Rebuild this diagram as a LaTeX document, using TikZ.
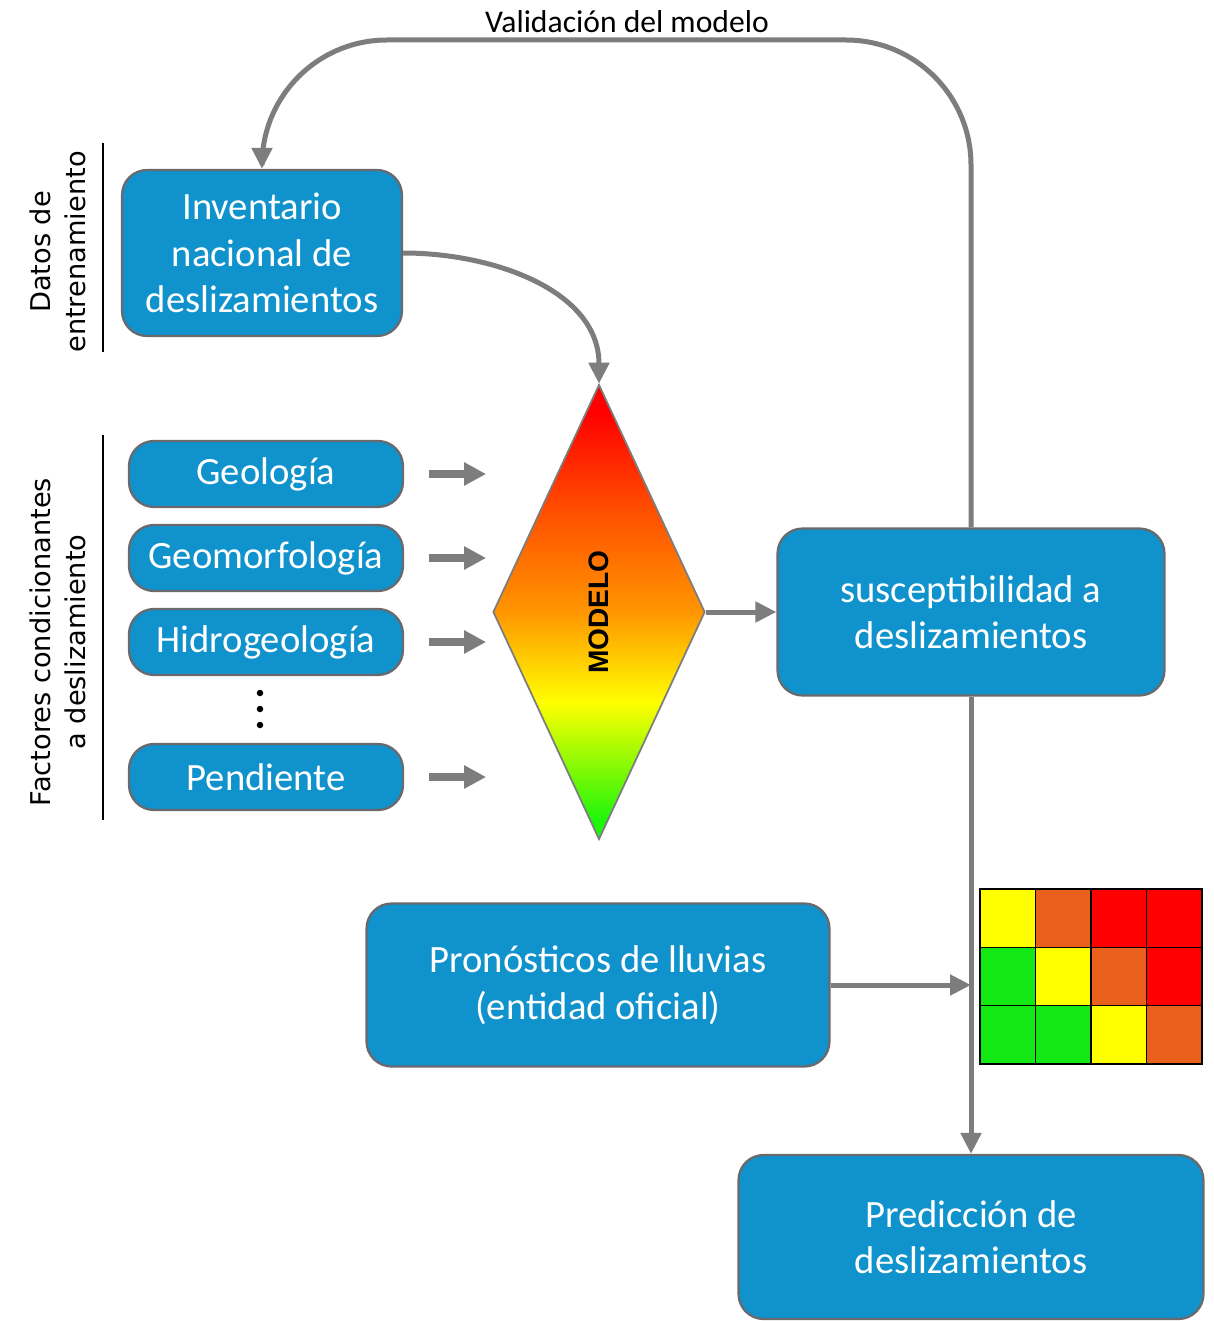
\documentclass[tikz,border=0pt]{standalone}
\usepackage{fontspec}
\setmainfont{Carlito}
\newfontfamily\ladofont{DejaVu Sans}
\newfontfamily\modfont{Liberation Sans}
\usetikzlibrary{arrows.meta,shapes.geometric}
\definecolor{azulcaja}{RGB}{16,146,204}
\definecolor{grisborde}{RGB}{105,105,110}
\definecolor{grisflecha}{RGB}{125,125,125}
\definecolor{verde}{RGB}{20,232,20}
\definecolor{amar}{RGB}{255,255,0}
\definecolor{nar}{RGB}{232,96,28}
\definecolor{rojo}{RGB}{255,0,0}
\definecolor{sverde}{RGB}{30,245,10}
\definecolor{snar}{RGB}{255,150,0}
\definecolor{snarr}{RGB}{255,80,0}
\pgfdeclareverticalshading{modelo}{100bp}{color(0bp)=(sverde); color(27bp)=(sverde); color(40bp)=(amar); color(50bp)=(snar); color(61bp)=(snarr); color(72bp)=(rojo); color(100bp)=(rojo)}

\begin{document}
\begin{tikzpicture}
[x=0.02cm,y=-0.02cm]
\tikzset{caja/.style={draw=grisborde, line width=1.3pt, fill=azulcaja, rounded corners=0.5cm, text=white, align=center, inner sep=0pt, font=\fontsize{22}{26.5}\selectfont}}
\tikzset{flecha/.style={draw=grisflecha, line width=0.1cm, -{Triangle[length=0.42cm,width=0.4cm]}}}
\tikzset{gruesa/.style={draw=grisflecha, line width=0.16cm, -{Triangle[length=0.44cm,width=0.44cm]}}}
\tikzset{lado/.style={rotate=90, align=center, font=\ladofont\fontsize{15.5}{19.8}\selectfont}}
\useasboundingbox (0,0) rectangle (1213,1321);
\node [font=\fontsize{18}{20}\selectfont] (tit) at (627,22) {Validación del modelo};
\coordinate (lazo) at (600,40);
\node [caja, minimum width=5.6cm, minimum height=3.32cm] (inv) at (262,253) {Inventario\\nacional de\\deslizamientos};
\node [caja, minimum width=5.48cm, minimum height=1.32cm] (geo) at (266,474) {Geología};
\node [caja, minimum width=5.48cm, minimum height=1.32cm] (geom) at (266,558) {Geomorfología};
\node [caja, minimum width=5.48cm, minimum height=1.32cm] (hidro) at (266,642) {Hidrogeología};
\node [caja, minimum width=5.48cm, minimum height=1.32cm] (pend) at (266,777) {Pendiente};
\node [diamond, draw=grisflecha, line width=1pt, shade, shading=modelo, inner sep=0pt, minimum width=4.24cm, minimum height=9.1cm] (mod) at (599,612) {};
\node [rotate=90, font=\modfont\bfseries\fontsize{16}{18}\selectfont] (modtxt) at (mod) {MODELO};
\node [caja, minimum width=7.74cm, minimum height=3.34cm] (sus) at (971,612) {susceptibilidad a\\deslizamientos};
\node [caja, minimum width=9.26cm, minimum height=3.26cm] (pron) at (598,985) {Pronósticos de lluvias\\(entidad oficial)};
\node [caja, minimum width=9.3cm, minimum height=3.28cm] (pred) at (971,1237) {Predicción de\\deslizamientos};
\node [lado] (datos) at (58,252) {Datos de\\entrenamiento};
\node [lado] (fact) at (58,642) {Factores condicionantes\\a deslizamiento};
\draw [line width=1.3pt] (103,143) -- (103,352);
\draw [line width=1.3pt] (103,435) -- (103,820);
\foreach \y in {693,709,725}
	\fill (260,\y) circle (0.065cm);

% mapa de riesgo
\foreach \col [count=\k from 0] in {amar,nar,rojo,rojo,verde,amar,nar,rojo,verde,verde,amar,nar}
{
	\pgfmathsetmacro\cx{mod(\k,4)}
	\pgfmathsetmacro\cy{int(\k/4)}
	\filldraw [fill=\col, draw=black, line width=0.8pt] (980+55.5*\cx,889+58.3*\cy) rectangle +(55.5,58.3);
}

\foreach \from in {geo,geom,hidro,pend}
	\draw [gruesa] ([xshift=0.5cm]\from.east) -- ([xshift=1.64cm]\from.east);
\draw [flecha, rounded corners=2.5cm] (sus.north) -- (sus.north |- lazo) -- (inv.north |- lazo) -- (inv.north);
\draw [flecha] (inv.east) to[out=0,in=90] (mod.north);
\draw [flecha] (mod.east) -- (sus.west);
\draw [flecha] (sus.south) -- (pred.north);
\draw [flecha] (pron.east) -- (pron.east -| sus.south);
\end{tikzpicture}
\end{document}
